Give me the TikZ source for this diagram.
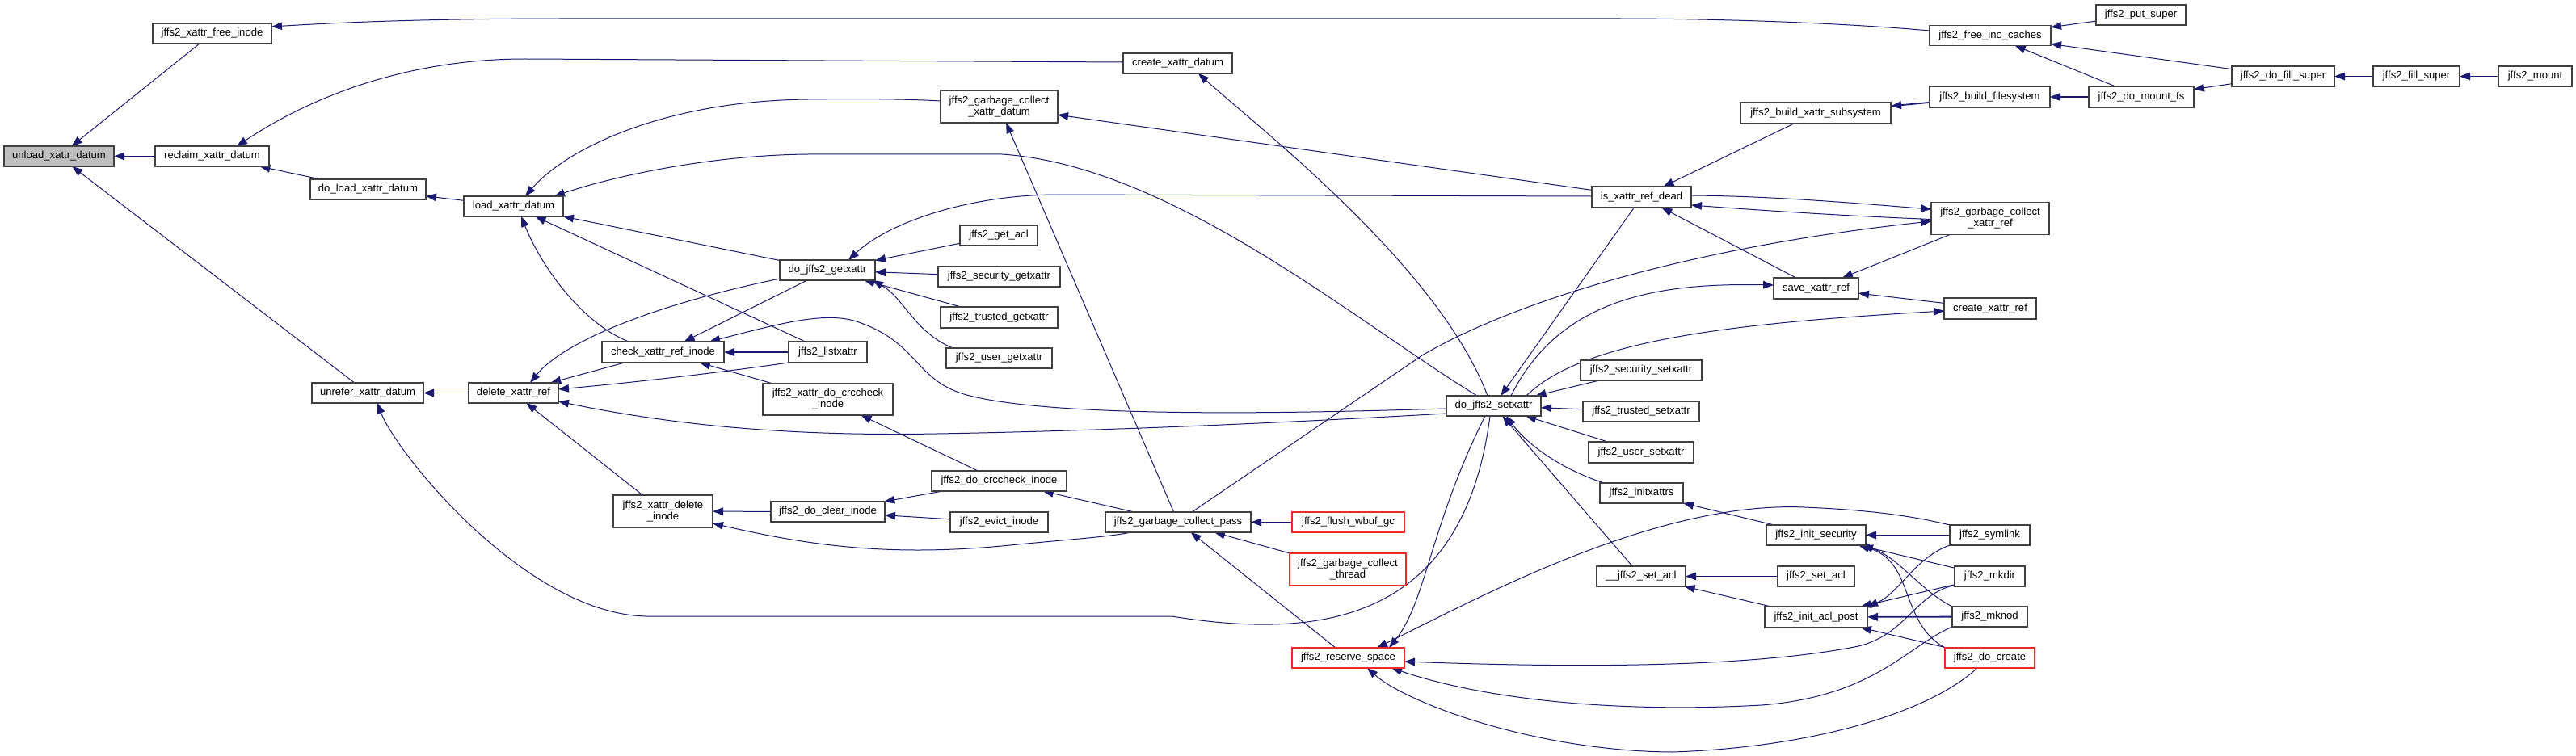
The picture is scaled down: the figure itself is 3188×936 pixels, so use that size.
\documentclass[tikz,border=0pt]{standalone}
\usepackage{fontspec}
\setmainfont{Liberation Sans}
\usetikzlibrary{arrows.meta}
\definecolor{edgeblue}{RGB}{25,25,112}
\definecolor{boxgray}{RGB}{64,64,64}
\definecolor{boxred}{RGB}{240,40,40}
\definecolor{rootfill}{RGB}{191,191,191}
\newcommand\nodefont{\fontsize{6.55pt}{7pt}\selectfont}
\pgfdeclarelayer{bg}
\pgfsetlayers{bg,main}
\tikzset{
  fn/.style={draw=boxgray, line width=0.6pt, fill=white, inner sep=0pt, outer sep=0pt,
             minimum height=12.5pt, font=\nodefont, align=center},
  tall/.style={minimum height=20pt},
  redbox/.style={draw=boxred},
  e/.style={draw=edgeblue, line width=0.5pt, {Triangle[length=6.5pt,width=4.8pt]}-},
  ethick/.style={e, line width=0.9pt},
}
\begin{document}
\begin{tikzpicture}[x=0.5pt,y=-0.5pt]
\useasboundingbox (0,0) rectangle (3188,936);
% ---- nodes ----
\node[fn, fill=rootfill, minimum width=68pt] (unload) at (73,193.5) {unload\_xattr\_datum};
\node[fn, minimum width=73.5pt] (xfree) at (262.5,41.5) {jffs2\_xattr\_free\_inode};
\node[fn, minimum width=70.5pt] (reclaim) at (262.5,193.5) {reclaim\_xattr\_datum};
\node[fn, minimum width=71.5pt] (doload) at (455.5,234.5) {do\_load\_xattr\_datum};
\node[fn, minimum width=61.5pt] (load) at (635.5,255.5) {load\_xattr\_datum};
\node[fn, minimum width=69pt] (unrefer) at (455,486.5) {unrefer\_xattr\_datum};
\node[fn, minimum width=55.5pt] (delref) at (635.5,486.5) {delete\_xattr\_ref};
\node[fn, minimum width=75.5pt, minimum height=13pt] (check) at (820.5,436) {check\_xattr\_ref\_inode};
\node[fn, tall, minimum width=61.5pt] (xdelinode) at (820.5,633) {jffs2\_xattr\_delete\\\_inode};
\node[fn, tall, minimum width=72.5pt] (gcxdatum) at (1236.5,132) {jffs2\_garbage\_collect\\\_xattr\_datum};
\node[fn, minimum width=67.5pt] (createxd) at (1457.5,78.5) {create\_xattr\_datum};
\node[fn, minimum width=59pt] (getxattr) at (1024,334.5) {do\_jffs2\_getxattr};
\node[fn, minimum width=48pt] (getacl) at (1236,291.5) {jffs2\_get\_acl};
\node[fn, minimum width=75.5pt] (secget) at (1236.5,342.5) {jffs2\_security\_getxattr};
\node[fn, minimum width=72.5pt, minimum height=13pt] (trustget) at (1236.5,393) {jffs2\_trusted\_getxattr};
\node[fn, minimum width=65.5pt] (userget) at (1236.5,443.5) {jffs2\_user\_getxattr};
\node[fn, minimum width=48.5pt, minimum height=13pt] (listx) at (1024.5,436) {jffs2\_listxattr};
\node[fn, minimum width=80.5pt, minimum height=19.5pt] (crccheckx) at (1024.5,494.5) {jffs2\_xattr\_do\_crccheck\\\_inode};
\node[fn, minimum width=70.5pt] (clearinode) at (1024.5,633.5) {jffs2\_do\_clear\_inode};
\node[fn, minimum width=83.5pt] (crccheck) at (1236.5,595.5) {jffs2\_do\_crccheck\_inode};
\node[fn, minimum width=60.5pt] (evict) at (1236.5,646.5) {jffs2\_evict\_inode};
\node[fn, minimum width=90pt] (gcpass) at (1458,646.5) {jffs2\_garbage\_collect\_pass};
\node[fn, redbox, minimum width=69.5pt] (flushgc) at (1668.5,646.5) {jffs2\_flush\_wbuf\_gc};
\node[fn, redbox, tall, minimum width=72pt] (gcthread) at (1668,705) {jffs2\_garbage\_collect\\\_thread};
\node[fn, redbox, minimum width=69.5pt] (reserve) at (1668.5,814.5) {jffs2\_reserve\_space};
\node[fn, minimum width=58.5pt] (setxattr) at (1848.5,502.5) {do\_jffs2\_setxattr};
\node[fn, minimum width=61.5pt, minimum height=13pt] (isdead) at (2031.5,244) {is\_xattr\_ref\_dead};
\node[fn, minimum width=75pt] (secset) at (2031,458.5) {jffs2\_security\_setxattr};
\node[fn, minimum width=72pt] (trustset) at (2031,509.5) {jffs2\_trusted\_setxattr};
\node[fn, minimum width=65pt, minimum height=13pt] (userset) at (2031,560) {jffs2\_user\_setxattr};
\node[fn, minimum width=51.5pt] (initx) at (2031.5,610.5) {jffs2\_initxattrs};
\node[fn, minimum width=55pt] (setaclint) at (2031,713.5) {\_\_jffs2\_set\_acl};
\node[fn, minimum width=93pt, minimum height=13pt] (buildxs) at (2247,140) {jffs2\_build\_xattr\_subsystem};
\node[fn, minimum width=52.5pt, minimum height=13pt] (save) at (2247.5,357) {save\_xattr\_ref};
\node[fn, minimum width=61.5pt] (initsec) at (2247.5,662.5) {jffs2\_init\_security};
\node[fn, minimum width=47.5pt] (setacl) at (2247.5,713.5) {jffs2\_set\_acl};
\node[fn, minimum width=63.5pt, minimum height=13pt] (initacl) at (2247.5,764) {jffs2\_init\_acl\_post};
\node[fn, minimum width=75pt] (freeino) at (2463,44) {jffs2\_free\_ino\_caches};
\node[fn, minimum width=74.5pt, minimum height=13pt] (buildfs) at (2462.5,120) {jffs2\_build\_filesystem};
\node[fn, tall, minimum width=73pt] (gcxref) at (2463,270.5) {jffs2\_garbage\_collect\\\_xattr\_ref};
\node[fn, minimum width=57pt, minimum height=13pt] (createxr) at (2463,382) {create\_xattr\_ref};
\node[fn, minimum width=49.5pt] (symlink) at (2462.5,662.5) {jffs2\_symlink};
\node[fn, minimum width=43.5pt] (mkdir) at (2462.5,713.5) {jffs2\_mkdir};
\node[fn, minimum width=46.5pt] (mknod) at (2462.5,763.5) {jffs2\_mknod};
\node[fn, redbox, minimum width=55.5pt] (docreate) at (2462.5,814.5) {jffs2\_do\_create};
\node[fn, minimum width=55.5pt] (putsuper) at (2649.5,18.5) {jffs2\_put\_super};
\node[fn, minimum width=65pt, minimum height=13pt] (domount) at (2650,120) {jffs2\_do\_mount\_fs};
\node[fn, minimum width=63.5pt] (dofill) at (2825.5,94.5) {jffs2\_do\_fill\_super};
\node[fn, minimum width=53.5pt] (fill) at (2990.5,94.5) {jffs2\_fill\_super};
\node[fn, minimum width=45.5pt] (mount) at (3137.5,94.5) {jffs2\_mount};
% ---- edges ----
\begin{pgfonlayer}{bg}
\draw[e] (unload) -- (xfree);
\draw[e] (unload) -- (reclaim);
\draw[e] (unload) -- (unrefer);
\draw[e] ([shift={(73.5,-8.5)}]xfree.center) .. controls (450,26) and (560,23) .. (700,23) -- (2000,23) .. controls (2150,23) and (2300,30) .. ([shift={(-75,-6)}]freeino.center);
\draw[e] ([shift={(30.5,-12.5)}]reclaim.center) .. controls (400,110) and (520,73) .. (650,73) -- ([shift={(-67.5,-1.5)}]createxd.center);
\draw[e] (reclaim) -- (doload);
\draw[e] (doload) -- (load);
\draw[e] ([shift={(14.5,-12.5)}]load.center) .. controls (700,185) and (820,125) .. (1000,123) .. controls (1080,122) and (1130,123) .. ([shift={(-72.5,-7)}]gcxdatum.center);
\draw[e] ([shift={(50.5,-12.5)}]load.center) .. controls (760,218) and (880,192) .. (1000,191) -- (1240,191) .. controls (1450,205) and (1680,400) .. ([shift={(-20.5,-12.5)}]setxattr.center);
\draw[e] (load) -- (getxattr);
\draw[e] (load) -- (listx);
\draw[e] ([shift={(9.5,12.5)}]load.center) .. controls (670,330) and (720,400) .. ([shift={(-42.5,-13)}]check.center);
\draw[e] (unrefer) -- (delref);
\draw[e] ([shift={(12,12.5)}]unrefer.center) .. controls (490,560) and (650,760) .. (800,763) -- (1450,763) .. controls (1620,790) and (1810,780) .. ([shift={(-4.5,12.5)}]setxattr.center);
\draw[e] (delref) -- (check);
\draw[e] ([shift={(20.5,-12.5)}]delref.center) .. controls (700,420) and (820,375) .. ([shift={(-59,10.5)}]getxattr.center);
\draw[e] ([shift={(55.5,-4.5)}]delref.center) .. controls (800,472) and (900,460) .. ([shift={(-48.5,13)}]listx.center);
\draw[e] ([shift={(55.5,10.5)}]delref.center) .. controls (850,530) and (1000,540) .. (1159,537) .. controls (1400,533) and (1650,520) .. ([shift={(-58.5,9.5)}]setxattr.center);
\draw[e] (delref) -- (xdelinode);
\draw[e] (check) -- (getxattr);
\draw[ethick] (check) -- (listx);
\draw[e] ([shift={(57.5,-13)}]check.center) .. controls (960,402) and (1020,385) .. (1060,398) .. controls (1140,425) and (1130,472) .. (1200,490) .. controls (1320,520) and (1650,510) .. ([shift={(-58.5,3.5)}]setxattr.center);
\draw[e] (check) -- (crccheckx);
\draw[e] (getxattr) -- (getacl);
\draw[e] (getxattr) -- (secget);
\draw[e] (getxattr) -- (trustget);
\draw[e] ([shift={(56,12.5)}]getxattr.center) .. controls (1120,370) and (1130,410) .. ([shift={(-57.5,-12.5)}]userget.center);
\draw[e] ([shift={(26,-12.5)}]getxattr.center) .. controls (1100,275) and (1200,241) .. (1310,241) -- ([shift={(-61.5,-1)}]isdead.center);
\draw[e] (gcxdatum) -- (isdead);
\draw[e] (gcxdatum) -- (gcpass);
\draw[e] ([shift={(25.5,12.5)}]createxd.center) .. controls (1560,160) and (1780,330) .. ([shift={(-7.5,-12.5)}]setxattr.center);
\draw[e] ([shift={(-73,3.5)}]gcxref.center) .. controls (2100,305) and (1880,370) .. (1760,440) -- ([shift={(17,-12.5)}]gcpass.center);
\draw[e] (setxattr) -- (isdead);
\draw[e] ([shift={(-52.5,-4)}]save.center) .. controls (2050,350) and (1930,370) .. ([shift={(21.5,-12.5)}]setxattr.center);
\draw[e] ([shift={(-57,3)}]createxr.center) .. controls (2150,400) and (1960,420) .. ([shift={(40.5,-12.5)}]setxattr.center);
\draw[e] (isdead) -- (buildxs);
\draw[ethick] (buildxs) -- (buildfs);
\draw[e] (isdead) -- (save);
\draw[e] (save) -- (gcxref);
\draw[e] (save) -- (createxr);
\draw[e] ([shift={(-73,-11.5)}]gcxref.center) .. controls (2300,252) and (2200,243) .. ([shift={(61.5,-2)}]isdead.center);
\draw[e] ([shift={(61.5,10)}]isdead.center) .. controls (2200,262) and (2300,268) .. ([shift={(-73,1)}]gcxref.center);
\draw[e] (freeino) -- (putsuper);
\draw[e] (freeino) -- (dofill);
\draw[e] (freeino) -- (domount);
\draw[ethick] (buildfs) -- (domount);
\draw[e] (domount) -- (dofill);
\draw[e] (dofill) -- (fill);
\draw[e] (fill) -- (mount);
\draw[e] (setxattr) -- (secset);
\draw[e] (setxattr) -- (trustset);
\draw[e] (setxattr) -- (userset);
\draw[e] ([shift={(15.5,12.5)}]setxattr.center) .. controls (1890,550) and (1930,580) .. ([shift={(-46.5,-12.5)}]initx.center);
\draw[e] (setxattr) -- (setaclint);
\draw[e] ([shift={(50.5,-12.5)}]reserve.center) .. controls (1765,745) and (1770,650) .. ([shift={(-10.5,12.5)}]setxattr.center);
\draw[e] (gcpass) -- (flushgc);
\draw[e] (gcpass) -- (gcthread);
\draw[e] (gcpass) -- (reserve);
\draw[e] ([shift={(35.5,-12.5)}]reserve.center) .. controls (1830,740) and (2050,620) .. (2233,628) .. controls (2330,632) and (2380,642) .. ([shift={(-49.5,-12.5)}]symlink.center);
\draw[e] ([shift={(69.5,4.5)}]reserve.center) .. controls (1900,825) and (2150,830) .. (2300,800) .. controls (2360,785) and (2370,735) .. ([shift={(-43.5,11)}]mkdir.center);
\draw[e] ([shift={(53.5,12.5)}]reserve.center) .. controls (1850,870) and (2020,882) .. (2180,873) .. controls (2320,862) and (2360,800) .. ([shift={(-46.5,12.5)}]mknod.center);
\draw[e] ([shift={(23.5,12.5)}]reserve.center) .. controls (1740,870) and (1900,930) .. (2070,931) .. controls (2250,925) and (2390,880) .. ([shift={(-15.5,12.5)}]docreate.center);
\draw[e] (initx) -- (initsec);
\draw[e] (setaclint) -- (setacl);
\draw[e] (setaclint) -- (initacl);
\draw[ethick] (initsec) -- (symlink);
\draw[e] (initsec) -- (mkdir);
\draw[e] ([shift={(57.5,12.5)}]initsec.center) .. controls (2350,690) and (2375,730) .. ([shift={(-46.5,-12.5)}]mknod.center);
\draw[e] ([shift={(52.5,12.5)}]initsec.center) .. controls (2370,695) and (2350,770) .. ([shift={(-55.5,-12.5)}]docreate.center);
\draw[e] ([shift={(63.5,-13)}]initacl.center) .. controls (2350,735) and (2370,690) .. ([shift={(-49.5,12.5)}]symlink.center);
\draw[e] (initacl) -- (mkdir);
\draw[ethick] (initacl) -- (mknod);
\draw[e] (initacl) -- (docreate);
\draw[e] (crccheckx) -- (crccheck);
\draw[e] (xdelinode) -- (clearinode);
\draw[e] ([shift={(61.5,15)}]xdelinode.center) .. controls (1000,675) and (1100,690) .. (1250,675) .. controls (1320,668) and (1370,665) .. ([shift={(-58,12.5)}]gcpass.center);
\draw[e] (clearinode) -- (crccheck);
\draw[e] (clearinode) -- (evict);
\draw[e] (crccheck) -- (gcpass);
\end{pgfonlayer}
\end{tikzpicture}
\end{document}
